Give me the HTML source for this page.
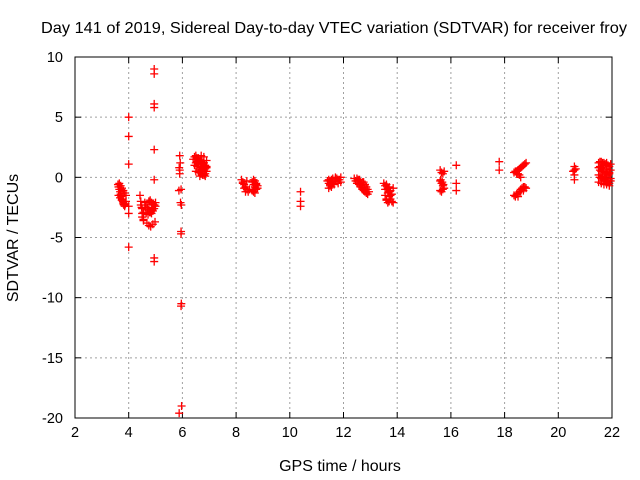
<!DOCTYPE html>
<html><head><meta charset="utf-8"><style>
html,body{margin:0;padding:0;background:#fff;}
svg{display:block;font-family:"Liberation Sans",sans-serif;}
</style></head><body>
<svg id="chart" width="640" height="480" viewBox="0 0 640 480" xmlns="http://www.w3.org/2000/svg">
<text x="334" y="33" font-size="16" text-anchor="middle" textLength="586" lengthAdjust="spacingAndGlyphs">Day 141 of 2019, Sidereal Day-to-day VTEC variation (SDTVAR) for receiver froy</text>
<g id="grid"></g>
<g id="axes"></g>
<g id="points"></g>
<text x="340" y="471" font-size="16" text-anchor="middle">GPS time / hours</text>
<text x="0" y="0" font-size="16" text-anchor="middle" transform="translate(18,238) rotate(-90)">SDTVAR / TECUs</text>
</svg>
<script>
const xTicks=[2,4,6,8,10,12,14,16,18,20,22];
const yTicks=[10,5,0,-5,-10,-15,-20];
const hours=[
3.6,3.62,3.65,3.68,3.7,3.72,3.75,3.78,3.8,3.82,3.85,3.88,3.9,3.65,3.7,3.75,3.8,3.85,3.9,3.62,3.68,3.74,3.8,3.86,
4.0,4.0,4.0,4.0,4.0,4.0,
4.42,4.45,4.48,4.5,4.55,4.45,4.5,4.55,4.6,4.65,4.7,4.75,4.8,4.85,4.9,4.95,5.0,4.62,4.7,4.78,4.86,4.94,5.0,4.65,4.72,4.8,4.88,4.96,4.68,4.75,4.82,4.9,4.98,4.5,4.55,4.75,4.8,4.85,4.9,
4.95,4.95,4.95,4.95,4.95,4.95,4.95,4.95,
5.9,5.92,5.88,5.9,5.87,5.95,5.93,5.96,5.95,5.95,5.96,5.95,5.97,5.88,5.9,
6.4,6.45,6.5,6.55,6.6,6.65,6.7,6.75,6.8,6.85,6.9,6.45,6.5,6.55,6.6,6.65,6.7,6.75,6.8,6.85,6.5,6.6,6.7,6.8,6.9,6.55,6.65,6.75,6.85,6.6,6.7,6.8,6.9,6.65,6.75,6.85,6.7,6.8,6.9,
8.2,8.25,8.3,8.35,8.4,8.45,8.25,8.3,8.35,8.4,8.5,8.6,8.65,8.7,8.75,8.8,8.6,8.65,8.7,8.75,8.8,8.65,8.7,8.75,
10.4,10.4,10.4,
11.4,11.45,11.5,11.55,11.6,11.65,11.7,11.75,11.8,11.85,11.9,11.45,11.5,11.55,11.6,11.7,11.8,11.9,11.45,11.5,11.6,11.7,
12.4,12.45,12.5,12.55,12.6,12.65,12.7,12.75,12.8,12.85,12.9,12.95,12.5,12.55,12.6,12.65,12.7,12.75,12.8,12.85,12.9,12.6,12.7,12.8,
13.5,13.55,13.6,13.65,13.7,13.75,13.8,13.85,13.55,13.6,13.65,13.7,13.75,13.8,13.55,13.6,13.65,13.7,13.75,13.85,13.6,13.7,
15.6,15.65,15.7,15.75,15.6,15.65,15.7,15.75,15.6,15.65,15.7,15.62,15.68,15.72,
16.2,16.2,16.2,
17.8,17.8,
18.35,18.4,18.45,18.5,18.55,18.6,18.65,18.7,18.75,18.8,18.5,18.55,18.6,18.45,18.5,
18.35,18.4,18.45,18.5,18.55,18.6,18.65,18.7,18.75,18.8,18.5,18.6,18.7,
20.6,20.6,20.6,20.6,20.55,20.65,
21.5,21.55,21.6,21.65,21.7,21.75,21.8,21.85,21.9,21.95,21.5,21.55,21.6,21.65,21.7,21.75,21.8,21.85,21.9,21.95,21.5,21.55,21.6,21.65,21.7,21.75,21.8,21.85,21.9,21.95,21.5,21.6,21.7,21.8,21.9,21.55,21.65,21.75,21.85,21.95,21.6,21.7,21.8,21.9
];
const sdtvar=[
-0.6,-0.8,-1.0,-1.2,-1.4,-1.6,-1.8,-2.0,-2.2,-2.3,-2.4,-2.2,-2.0,-0.5,-0.7,-0.9,-1.1,-1.3,-1.5,-1.5,-1.7,-1.9,-2.1,-2.3,
5.0,3.4,1.1,-2.4,-3.0,-5.8,
-1.5,-2.0,-2.5,-3.0,-3.5,-2.3,-2.6,-2.9,-2.1,-2.3,-2.5,-2.7,-2.9,-3.0,-2.8,-2.6,-2.4,-2.5,-2.7,-2.9,-2.6,-2.3,-2.1,-3.0,-3.1,-2.9,-2.7,-2.3,-3.8,-4.0,-4.1,-3.9,-3.7,-3.3,-3.6,-2.0,-1.9,-2.1,-2.2,
9.0,8.6,6.1,5.8,2.3,-0.2,-6.7,-7.0,
1.8,1.2,0.8,0.3,-1.1,-1.0,-2.1,-2.3,-4.5,-4.7,-10.5,-10.7,-19.0,-19.6,0.6,
1.5,1.7,1.8,1.6,1.4,1.5,1.3,1.1,1.2,1.0,0.9,1.0,1.2,1.3,1.1,0.9,0.8,0.7,0.6,0.7,0.5,0.4,0.3,0.2,0.5,0.9,0.6,0.5,0.3,1.6,1.8,1.7,1.4,0.1,0.2,0.1,1.4,1.2,0.8,
-0.2,-0.4,-0.6,-0.8,-1.0,-1.2,-0.5,-0.9,-1.2,-0.3,-1.0,-0.4,-0.6,-0.8,-1.0,-0.9,-1.1,-1.2,-1.3,-0.5,-0.7,-0.2,-0.3,-0.6,
-1.2,-2.0,-2.4,
-0.3,-0.5,-0.7,-0.2,-0.4,-0.6,-0.3,-0.1,-0.5,-0.2,-0.4,-0.9,-0.6,-0.8,-0.1,0.0,-0.2,0.0,-0.2,-0.3,-0.5,-0.1,
-0.1,-0.3,-0.5,-0.2,-0.5,-0.7,-0.9,-1.1,-1.2,-1.3,-1.4,-1.2,-0.1,-0.3,-0.6,-0.8,-1.0,-0.4,-0.6,-0.8,-1.0,-0.2,-0.4,-0.6,
-0.5,-0.7,-1.0,-1.3,-1.6,-1.8,-2.0,-2.1,-1.5,-1.9,-2.1,-0.8,-1.1,-1.4,-1.0,-0.6,-0.9,-1.2,-1.5,-0.9,-1.8,-2.0,
0.6,0.4,0.3,0.5,-0.3,-0.5,-0.7,-0.9,-1.1,-1.2,-1.0,-0.2,-0.4,-0.6,
1.0,-0.5,-1.1,
1.3,0.6,
0.4,0.5,0.3,0.6,0.7,0.8,0.9,1.0,1.1,1.2,0.3,0.2,0.0,0.5,0.6,
-1.5,-1.6,-1.4,-1.3,-1.2,-1.0,-0.9,-0.8,-0.8,-0.9,-1.6,-1.2,-1.1,
0.9,0.6,0.2,-0.2,0.5,0.7,
1.2,1.3,1.3,1.2,1.2,1.1,1.2,1.0,0.9,1.1,0.8,0.6,0.5,0.7,0.5,0.4,0.3,0.2,0.4,0.6,0.2,0.0,-0.1,0.1,-0.2,-0.3,-0.4,-0.2,-0.5,-0.1,-0.4,-0.5,-0.6,-0.6,-0.7,0.9,0.0,-0.1,0.2,-0.3,0.8,1.0,0.7,0.3
];
const NS='http://www.w3.org/2000/svg';
const L=75,R=612,T=57,B=418,x0=2,x1=22,y0=-20,y1=10;
function xs(v){return L+(v-x0)/(x1-x0)*(R-L);}
function ys(v){return B-(v-y0)/(y1-y0)*(B-T);}
function mk(tag,attrs,parent){const e=document.createElementNS(NS,tag);for(const k in attrs)e.setAttribute(k,attrs[k]);parent.appendChild(e);return e;}
const grid=document.getElementById('grid'),axes=document.getElementById('axes'),pts=document.getElementById('points');
xTicks.forEach(t=>{const x=xs(t);
 if(t>x0&&t<x1){const g=mk('line',{x1:x,x2:x,y1:T,y2:B,stroke:'#a0a0a0','stroke-dasharray':'2,3','stroke-width':1},grid);
 
 }
 mk('line',{x1:x,x2:x,y1:B,y2:B-6,stroke:'#000'},axes);
 mk('line',{x1:x,x2:x,y1:T,y2:T+6,stroke:'#000'},axes);
 const tx=mk('text',{x:x,y:B+19,'font-size':14.5,'text-anchor':'middle'},axes);tx.textContent=t;
 
 
});
yTicks.forEach(t=>{const y=ys(t);
 if(t>y0&&t<y1){const g=mk('line',{x1:L,x2:R,y1:y,y2:y,stroke:'#a0a0a0','stroke-dasharray':'2,3','stroke-width':1},grid);
 
 }
 mk('line',{x1:L,x2:L+6,y1:y,y2:y,stroke:'#000'},axes);
 mk('line',{x1:R,x2:R-6,y1:y,y2:y,stroke:'#000'},axes);
 const tx=mk('text',{x:L-12,y:y+5,'font-size':14.5,'text-anchor':'end'},axes);tx.textContent=t;
 
 
});
const fr=mk('rect',{x:L,y:T,width:R-L,height:B-T,fill:'none',stroke:'#000','stroke-width':1},axes);


hours.forEach((h,i)=>{const x=xs(h),y=ys(sdtvar[i]);
 const p=mk('path',{d:`M${x-4},${y}H${x+4}M${x},${y-4}V${y+4}`,stroke:'#ff0000','stroke-width':1.3,fill:'none'},pts);
 
 
});
</script>
</body></html>
